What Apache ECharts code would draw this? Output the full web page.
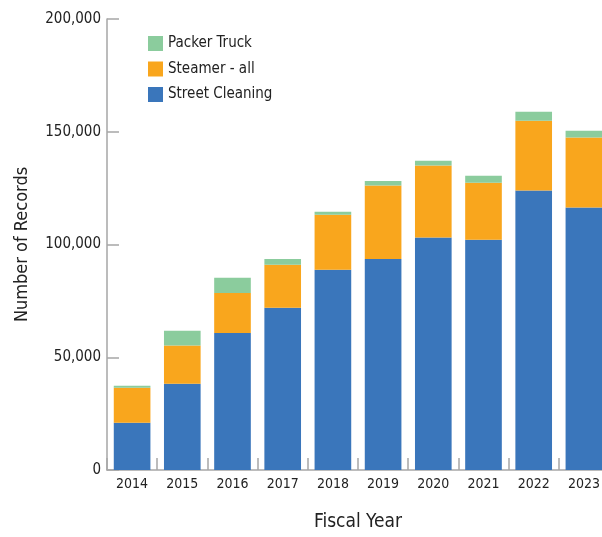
<!DOCTYPE html>
<html>
<head>
  <meta charset="utf-8">
</head>
<body style="margin: 0; width: 602px; height: 537px;">
  <div id="container" style="width: 602px; height: 537px;"></div>
  <script type="text/javascript" src="https://cdn.jsdelivr.net/npm/echarts@6/dist/echarts.min.js"></script>
  <script type="text/javascript">
    // fiscal years and record counts per source
    var years = ['2014', '2015', '2016', '2017', '2018', '2019', '2020', '2021', '2022', '2023'];
    var streetCleaning = [21000, 38300, 60800, 71900, 88800, 93600, 103100, 102100, 123900, 116400];
    var steamerAll = [15500, 16900, 17700, 19100, 24400, 32600, 31900, 25300, 31000, 31100];
    var packerTruck = [900, 6500, 6700, 2600, 1300, 2000, 2100, 3100, 4000, 2900];
    var yTicks = [0, 50000, 100000, 150000, 200000];

    var font = '"DejaVu Sans Condensed", "Liberation Sans Narrow", sans-serif';
    var textColor = '#222';
    var axisColor = '#a6a6a6';

    var chart = echarts.init(document.getElementById('container'), null, { renderer: 'canvas' });

    var option = {
      animation: false,
      textStyle: { fontFamily: font, color: textColor },
      legend: {
        orient: 'vertical',
        left: 148,
        top: 36,
        padding: 0,
        itemWidth: 15,
        itemHeight: 15,
        itemGap: 10.5,
        icon: 'rect',
        data: ['Packer Truck', 'Steamer - all', 'Street Cleaning'],
        textStyle: { fontFamily: font, fontSize: 15, color: textColor }
      },
      grid: { left: 107, top: 19, right: -7, bottom: 67, outerBoundsMode: 'none', containLabel: false },
      xAxis: {
        type: 'category',
        data: years,
        name: 'Fiscal Year',
        nameLocation: 'middle',
        nameGap: 43,
        nameTextStyle: { fontFamily: font, fontSize: 19, color: textColor },
        axisLine: { lineStyle: { color: axisColor, width: 1.5 } },
        axisTick: { show: true, inside: true, length: 12, lineStyle: { color: axisColor, width: 1.5 } },
        axisLabel: { fontFamily: font, fontSize: 14, color: textColor, margin: 7 }
      },
      yAxis: {
        type: 'value',
        min: yTicks[0],
        max: yTicks[yTicks.length - 1],
        interval: yTicks[1] - yTicks[0],
        name: 'Number of Records',
        nameLocation: 'middle',
        nameGap: 76,
        nameTextStyle: { fontFamily: font, fontSize: 18, color: textColor },
        axisLine: { show: true, lineStyle: { color: axisColor, width: 1.5 } },
        axisTick: { show: true, inside: true, length: 12, lineStyle: { color: axisColor, width: 1.5 } },
        splitLine: { show: false },
        axisLabel: {
          fontFamily: font, fontSize: 15, color: textColor, margin: 6,
          formatter: function (v) { return v.toLocaleString('en-US'); }
        }
      },
      series: [
        {
          name: 'Street Cleaning', type: 'bar', stack: 'total', barWidth: '73%',
          itemStyle: { color: '#3a76bb' }, data: streetCleaning
        },
        {
          name: 'Steamer - all', type: 'bar', stack: 'total', barWidth: '73%',
          itemStyle: { color: '#f9a61d' }, data: steamerAll
        },
        {
          name: 'Packer Truck', type: 'bar', stack: 'total', barWidth: '73%',
          itemStyle: { color: '#8bcc9d' }, data: packerTruck
        }
      ]
    };

    chart.setOption(option);
  </script>
</body>
</html>
